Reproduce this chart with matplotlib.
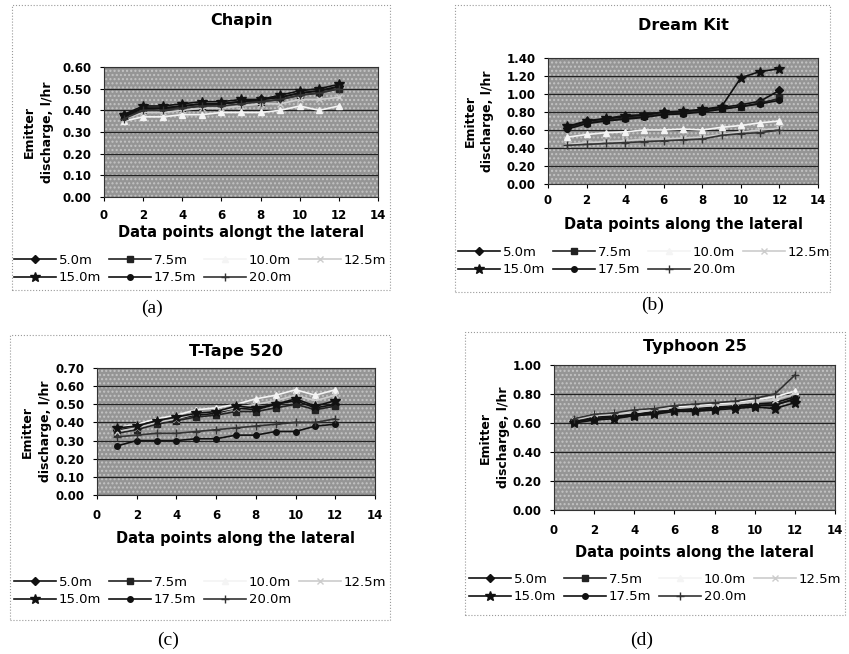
import matplotlib
matplotlib.use("Agg")
import matplotlib.pyplot as plt
import matplotlib.patches as mpatches
from matplotlib.ticker import FormatStrFormatter, MultipleLocator

# ---------------------------------------------------------------------------
# data
# ---------------------------------------------------------------------------
points = [1, 2, 3, 4, 5, 6, 7, 8, 9, 10, 11, 12]
series_names = ["5.0m", "7.5m", "10.0m", "12.5m", "15.0m", "17.5m", "20.0m"]

chapin = [
    [0.38, 0.41, 0.41, 0.42, 0.43, 0.43, 0.44, 0.45, 0.46, 0.48, 0.49, 0.51],
    [0.37, 0.40, 0.41, 0.41, 0.42, 0.43, 0.44, 0.44, 0.45, 0.47, 0.48, 0.50],
    [0.35, 0.37, 0.37, 0.38, 0.38, 0.39, 0.39, 0.39, 0.40, 0.42, 0.40, 0.42],
    [0.36, 0.39, 0.39, 0.40, 0.41, 0.41, 0.42, 0.43, 0.43, 0.45, 0.45, 0.46],
    [0.38, 0.42, 0.42, 0.43, 0.44, 0.44, 0.45, 0.45, 0.47, 0.49, 0.50, 0.52],
    [0.37, 0.41, 0.41, 0.42, 0.43, 0.43, 0.44, 0.45, 0.46, 0.48, 0.49, 0.51],
    [0.36, 0.40, 0.40, 0.41, 0.42, 0.42, 0.43, 0.44, 0.45, 0.47, 0.48, 0.50],
]
dream_kit = [
    [0.62, 0.70, 0.72, 0.75, 0.76, 0.80, 0.80, 0.82, 0.85, 0.88, 0.92, 1.04],
    [0.63, 0.68, 0.71, 0.73, 0.75, 0.78, 0.79, 0.81, 0.84, 0.86, 0.90, 0.95],
    [0.52, 0.55, 0.57, 0.58, 0.60, 0.60, 0.61, 0.60, 0.63, 0.65, 0.68, 0.70],
    [0.44, 0.46, 0.47, 0.48, 0.50, 0.50, 0.51, 0.52, 0.55, 0.58, 0.60, 0.62],
    [0.64, 0.70, 0.73, 0.76, 0.77, 0.80, 0.81, 0.83, 0.86, 1.18, 1.25, 1.28],
    [0.61, 0.67, 0.70, 0.72, 0.74, 0.77, 0.78, 0.80, 0.83, 0.86, 0.89, 0.93],
    [0.43, 0.44, 0.45, 0.46, 0.47, 0.48, 0.49, 0.50, 0.54, 0.56, 0.57, 0.60],
]
t_tape = [
    [0.36, 0.37, 0.40, 0.42, 0.44, 0.45, 0.48, 0.47, 0.50, 0.52, 0.48, 0.50],
    [0.34, 0.36, 0.39, 0.41, 0.43, 0.44, 0.46, 0.46, 0.48, 0.50, 0.47, 0.49],
    [0.37, 0.39, 0.42, 0.44, 0.47, 0.48, 0.50, 0.53, 0.55, 0.58, 0.55, 0.58],
    [0.35, 0.37, 0.40, 0.42, 0.45, 0.46, 0.48, 0.50, 0.52, 0.55, 0.52, 0.55],
    [0.37, 0.38, 0.41, 0.43, 0.45, 0.46, 0.49, 0.48, 0.50, 0.53, 0.49, 0.52],
    [0.27, 0.30, 0.30, 0.30, 0.31, 0.31, 0.33, 0.33, 0.35, 0.35, 0.38, 0.39],
    [0.32, 0.33, 0.34, 0.34, 0.35, 0.36, 0.37, 0.38, 0.39, 0.40, 0.40, 0.42],
]
typhoon = [
    [0.62, 0.64, 0.65, 0.66, 0.68, 0.70, 0.70, 0.71, 0.72, 0.73, 0.74, 0.78],
    [0.61, 0.63, 0.64, 0.65, 0.67, 0.69, 0.69, 0.70, 0.71, 0.72, 0.73, 0.76],
    [0.63, 0.66, 0.67, 0.68, 0.70, 0.71, 0.72, 0.73, 0.74, 0.76, 0.78, 0.82],
    [0.62, 0.65, 0.66, 0.67, 0.69, 0.70, 0.71, 0.72, 0.73, 0.75, 0.76, 0.80],
    [0.60, 0.62, 0.63, 0.65, 0.66, 0.68, 0.68, 0.69, 0.70, 0.71, 0.70, 0.74],
    [0.61, 0.63, 0.64, 0.66, 0.67, 0.69, 0.69, 0.70, 0.71, 0.72, 0.72, 0.77],
    [0.63, 0.66, 0.67, 0.69, 0.70, 0.72, 0.73, 0.74, 0.75, 0.77, 0.80, 0.93],
]

titles = ["Chapin", "Dream Kit", "T-Tape 520", "Typhoon 25"]
xlabels = ["Data points alongt the lateral", "Data points along the lateral",
           "Data points along the lateral", "Data points along the lateral"]
captions = ["(a)", "(b)", "(c)", "(d)"]
y_max = [0.60, 1.40, 0.70, 1.00]
y_step = [0.10, 0.20, 0.10, 0.20]
panel_data = [chapin, dream_kit, t_tape, typhoon]

# ---------------------------------------------------------------------------
# styles / layout (pixel positions in a 849x654 canvas)
# ---------------------------------------------------------------------------
W, H = 849, 654
PT = 0.72  # points per pixel at 100 dpi
styles = [
    dict(color="#111111", marker="D", ms=4),
    dict(color="#222222", marker="s", ms=4),
    dict(color="#f4f4f4", marker="^", ms=5),
    dict(color="#cccccc", marker="x", ms=5),
    dict(color="#111111", marker="*", ms=7),
    dict(color="#111111", marker="o", ms=4),
    dict(color="#333333", marker="+", ms=6),
]
# plot box: left, top, right, bottom
boxes = [(104, 67, 378, 197), (548, 58, 818, 184),
         (97, 368, 375, 495), (554, 365, 835, 510)]
title_y = [21, 25, 352, 346]
xtick_y = [215, 200, 515, 530]
xlabel_y = [233, 225, 538, 552]
ylabel_x = [38, 479, 36, 494]
legend_box = [(15, 385, 269), (460, 828, 261), (15, 385, 591), (465, 845, 588)]
frames = [(12, 5, 390, 290), (455, 5, 830, 292), (10, 335, 390, 620), (465, 332, 845, 615)]
caption_pos = [(152, 308), (653, 305), (168, 640), (642, 640)]

fig = plt.figure(figsize=(W / 100, H / 100), dpi=100)
fig.patch.set_facecolor("white")

for i in range(4):
    l, t, r, b = boxes[i]
    ax = fig.add_axes([l / W, 1 - b / H, (r - l) / W, (b - t) / H])
    ax.set_facecolor("#959595")
    ax.add_patch(mpatches.Rectangle((0, 0), 1, 1, transform=ax.transAxes,
                                    facecolor="none", edgecolor="#c4c4c4",
                                    hatch="....", lw=0, zorder=0))
    handles = []
    for name, vals, st in zip(series_names, panel_data[i], styles):
        h, = ax.plot(points, vals, color=st["color"], marker=st["marker"],
                     ms=st["ms"], lw=1.2, mec=st["color"], mfc=st["color"],
                     label=name, zorder=3)
        handles.append(h)

    ax.set_xlim(0, 14)
    ax.set_ylim(0, y_max[i])
    ax.xaxis.set_major_locator(MultipleLocator(2))
    ax.yaxis.set_major_locator(MultipleLocator(y_step[i]))
    ax.yaxis.set_major_formatter(FormatStrFormatter("%.2f"))
    ax.grid(axis="y", color="#222222", lw=0.9)
    ax.set_axisbelow(True)
    for s in ax.spines.values():
        s.set_color("#333333")
        s.set_linewidth(0.8)
    ax.tick_params(axis="x", length=3, pad=((xtick_y[i] - b) - 10) * PT, labelsize=8.5)
    ax.tick_params(axis="y", length=3, pad=6, labelsize=8.5)
    for lab in ax.get_xticklabels() + ax.get_yticklabels():
        lab.set_fontweight("bold")

    ax.set_xlabel(xlabels[i], fontsize=10.5, fontweight="bold", va="center")
    ax.xaxis.set_label_coords(0.5, (b - xlabel_y[i]) / (b - t))
    ax.set_ylabel("Emitter\ndischarge, l/hr", fontsize=9, fontweight="bold",
                  va="center", linespacing=1.5)
    ax.yaxis.set_label_coords((ylabel_x[i] - l) / (r - l), 0.5)

    fig.text(((l + r) / 2) / W, 1 - title_y[i] / H, titles[i], ha="center",
             va="center", fontsize=11.5, fontweight="bold")

    # legend, row-major order like the spreadsheet layout
    order = [0, 4, 1, 5, 2, 6, 3]
    lx0, lx1, ly = legend_box[i]
    fig.legend([handles[k] for k in order], [series_names[k] for k in order],
               ncol=4, loc="center", bbox_to_anchor=(((lx0 + lx1) / 2) / W, 1 - ly / H),
               frameon=False, fontsize=9.5, handlelength=3.2, handletextpad=0.2,
               columnspacing=0.6, labelspacing=0.35, borderpad=0)

    fx0, fy0, fx1, fy1 = frames[i]
    fig.patches.append(mpatches.Rectangle((fx0 / W, 1 - fy1 / H), (fx1 - fx0) / W,
                                          (fy1 - fy0) / H, transform=fig.transFigure,
                                          fill=False, edgecolor="#9a9a9a", lw=0.8,
                                          linestyle=":"))
    cx, cy = caption_pos[i]
    fig.text(cx / W, 1 - cy / H, captions[i], ha="center", va="center",
             fontsize=14, family="Liberation Serif")

fig.savefig("out.png", dpi=100)
